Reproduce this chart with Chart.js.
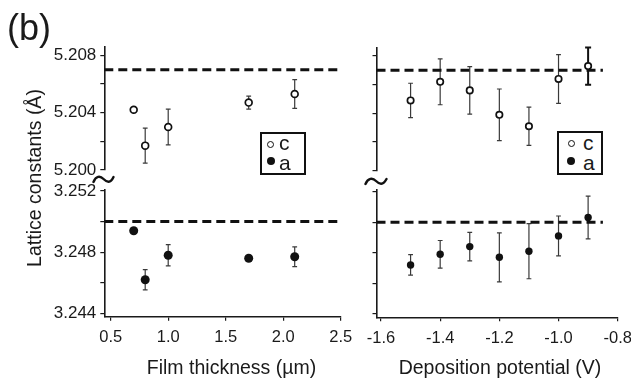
<!DOCTYPE html>
<html>
<head>
<meta charset="utf-8">
<script src="https://cdn.jsdelivr.net/npm/chart.js@4/dist/chart.umd.min.js"></script>
<style>
  html, body { margin: 0; padding: 0; background: #fff; }
  #wrap { position: relative; width: 631px; height: 386px; overflow: hidden; font-family: 'Liberation Sans', Arial, sans-serif; color: #1a1a1a; }
  canvas { position: absolute; left: 0; top: 0; }
  .txt { position: absolute; white-space: nowrap; line-height: 1; }
  .legend { position: absolute; box-sizing: border-box; border: 2px solid #111; background: #fff; }
  .dot { position: absolute; border-radius: 50%; box-sizing: border-box; }
  .brk { position: absolute; }
</style>
</head>
<body>
<div id="wrap">
  <canvas id="tl" width="631" height="386"></canvas>
  <canvas id="bl" width="631" height="386"></canvas>
  <canvas id="tr" width="631" height="386"></canvas>
  <canvas id="br" width="631" height="386"></canvas>

  <div class="txt" style="left:7px; top:10px; font-size:36px;">(b)</div>
  <div class="txt" style="left:34.5px; top:177.5px; font-size:19.5px; transform:translate(-50%,-50%) rotate(-90deg);">Lattice constants (Å)</div>
  <div class="txt" style="left:231.5px; top:367.5px; font-size:19.5px; transform:translate(-50%,-50%);">Film thickness (µm)</div>
  <div class="txt" style="left:500px; top:367.5px; font-size:19.5px; transform:translate(-50%,-50%);">Deposition potential (V)</div>

  <!-- legends -->
  <div class="legend" style="left:260px; top:131.5px; width:46px; height:43.5px;"></div>
  <div class="dot" style="left:267.2px; top:140.5px; width:7px; height:7px; border:1.6px solid #111;"></div>
  <div class="dot" style="left:266.5px; top:156.5px; width:8.4px; height:8.4px; background:#111;"></div>
  <div class="txt" style="left:279px; top:131.5px; font-size:21px;">c</div>
  <div class="txt" style="left:279px; top:152.2px; font-size:21px;">a</div>

  <div class="legend" style="left:557px; top:130.5px; width:46.3px; height:44px;"></div>
  <div class="dot" style="left:567.5px; top:139.5px; width:7px; height:7px; border:1.6px solid #111;"></div>
  <div class="dot" style="left:566.8px; top:156.8px; width:8.4px; height:8.4px; background:#111;"></div>
  <div class="txt" style="left:583px; top:131.5px; font-size:21px;">c</div>
  <div class="txt" style="left:583px; top:152.2px; font-size:21px;">a</div>

  <!-- axis breaks -->
  <svg class="brk" style="left:91.5px; top:174px;" width="23" height="11" viewBox="0 0 23 11">
    <path d="M1.5,8 C4,2 8,1.5 11.5,5 S18.5,9.5 21.5,3" fill="none" stroke="#111" stroke-width="2.4" stroke-linecap="round"/>
  </svg>
  <svg class="brk" style="left:363.5px; top:175.5px;" width="24" height="11" viewBox="0 0 24 11">
    <path d="M1.5,8 C4,2 8.5,1.5 12,5 S19,9.5 22.5,3" fill="none" stroke="#111" stroke-width="2.4" stroke-linecap="round"/>
  </svg>
</div>

<script>
// values
const thickness = [0.7, 0.8, 1.0, 1.7, 2.1];
const cThick = [5.2042, 5.2017, 5.2030, 5.2047, 5.2053];
const cThickErr = [0, 0.00122, 0.00125, 0.00045, 0.0010];
const aThick = [3.2494, 3.2462, 3.2478, 3.2476, 3.2477];
const aThickErr = [0, 0.00066, 0.0007, 0, 0.00065];

const potential = [-1.5, -1.4, -1.3, -1.2, -1.1, -1.0, -0.9];
const cPot = [5.2049, 5.2062, 5.2056, 5.2039, 5.2031, 5.2064, 5.2073];
const cPotErr = [0.0012, 0.0016, 0.00166, 0.0018, 0.00133, 0.0017, 0.0013];
const aPot = [3.2472, 3.2479, 3.2484, 3.2477, 3.2481, 3.2491, 3.2503];
const aPotErr = [0.00067, 0.0009, 0.00093, 0.0016, 0.0018, 0.0013, 0.0014];

const cBulk = 5.207;
const aBulk = 3.250;

const thickTicks = [0.5, 1.0, 1.5, 2.0, 2.5];
const potTicks = [-1.6, -1.4, -1.2, -1.0, -0.8];
const cTicks = [5.200, 5.202, 5.204, 5.206, 5.208];
const cLabels = [5.200, 5.204, 5.208];
const aTicks = [3.244, 3.246, 3.248, 3.250, 3.252];
const aLabels = [3.244, 3.248, 3.252];

const INK = '#1a1a1a';
const FONT = "'Liberation Sans', Arial, sans-serif";

const errorBars = {
  id: 'errorBars',
  beforeDatasetsDraw(chart) {
    const ctx = chart.ctx;
    const ys = chart.scales.y;
    chart.data.datasets.forEach((ds, di) => {
      if (!ds.err) return;
      chart.getDatasetMeta(di).data.forEach((pt, i) => {
        const e = ds.err[i];
        if (!e) return;
        const strong = ds.errStrong && ds.errStrong.indexOf(i) >= 0;
        const top = ys.getPixelForValue(ds.data[i].y + e);
        const bot = ys.getPixelForValue(ds.data[i].y - e);
        const cap = strong ? 3 : 2.4;
        ctx.save();
        ctx.strokeStyle = strong ? '#111' : '#3a3a3a';
        ctx.lineWidth = strong ? 2 : 1.2;
        ctx.beginPath();
        ctx.moveTo(pt.x, top); ctx.lineTo(pt.x, bot);
        ctx.moveTo(pt.x - cap, top); ctx.lineTo(pt.x + cap, top);
        ctx.moveTo(pt.x - cap, bot); ctx.lineTo(pt.x + cap, bot);
        ctx.stroke();
        ctx.restore();
      });
    });
  }
};

function near(list, v) {
  return list.some((l) => Math.abs(l - v) < 1e-7);
}

function panel(id, o) {
  const pts = o.x.map((x, i) => ({ x: x, y: o.y[i] }));
  return new Chart(document.getElementById(id), {
    type: 'scatter',
    data: {
      datasets: [
        {
          data: [{ x: o.xRange[0], y: o.bulk }, { x: o.lineTo, y: o.bulk }],
          showLine: true,
          borderColor: '#111',
          borderWidth: 3,
          borderDash: [9, 5],
          pointRadius: 0,
          order: 2
        },
        {
          data: pts,
          err: o.err,
          errStrong: o.errStrong,
          pointRadius: o.radius,
          pointBorderWidth: o.filled ? 0 : 1.7,
          pointBorderColor: '#111',
          pointBackgroundColor: o.filled ? '#111' : '#fff',
          order: 1
        }
      ]
    },
    options: {
      responsive: false,
      animation: false,
      devicePixelRatio: 1,
      layout: { padding: o.pad },
      plugins: { legend: { display: false }, tooltip: { enabled: false } },
      scales: {
        x: {
          type: 'linear',
          min: o.xRange[0],
          max: o.xRange[1],
          display: o.showX,
          afterBuildTicks: (s) => { s.ticks = o.xTicks.map((v) => ({ value: v })); },
          afterFit: (s) => {
            s.height = o.showX ? 32 : 0;
            s.paddingLeft = 0;
            s.paddingRight = 0;
          },
          grid: { drawOnChartArea: false, drawTicks: true, tickLength: 4, color: INK, lineWidth: 1.2 },
          border: { color: INK, width: 1.6 },
          ticks: {
            padding: 7,
            color: INK,
            font: { family: FONT, size: 16.5 },
            maxRotation: 0,
            autoSkip: false,
            callback: (v) => v.toFixed(1)
          }
        },
        y: {
          type: 'linear',
          min: o.yRange[0],
          max: o.yRange[1],
          afterBuildTicks: (s) => { s.ticks = o.yTicks.map((v) => ({ value: v })); },
          afterFit: (s) => { s.width = 60; s.paddingTop = 0; s.paddingBottom = 0; },
          grid: { drawOnChartArea: false, drawTicks: true, tickLength: 4, color: INK, lineWidth: 1.2 },
          border: { color: INK, width: 1.6 },
          ticks: {
            padding: 4,
            color: INK,
            font: { family: FONT, size: 17 },
            autoSkip: false,
            callback: (v) => (o.yLabels && near(o.yLabels, v) ? v.toFixed(3) : '')
          }
        }
      }
    },
    plugins: [errorBars]
  });
}

const cRange = [5.2000, 5.2086];
const aRange = [3.24378, 3.2521];
const thickRange = [0.4443, 2.5];
const potRange = [-1.6152, -0.8];

panel('tl', {
  x: thickness, y: cThick, err: cThickErr, bulk: cBulk, lineTo: thickRange[1],
  xRange: thickRange, yRange: cRange, xTicks: thickTicks, yTicks: cTicks, yLabels: cLabels,
  showX: false, filled: false, radius: 3.4,
  pad: { left: 44.3, right: 290.3, top: 46.7, bottom: 216 }
});
panel('bl', {
  x: thickness, y: aThick, err: aThickErr, bulk: aBulk, lineTo: thickRange[1],
  xRange: thickRange, yRange: aRange, xTicks: thickTicks, yTicks: aTicks, yLabels: aLabels,
  showX: true, filled: true, radius: 4.5,
  pad: { left: 44.3, right: 290.3, top: 189.5, bottom: 37.3 }
});
panel('tr', {
  x: potential, y: cPot, err: cPotErr, errStrong: [6], bulk: cBulk, lineTo: -0.85,
  xRange: potRange, yRange: cRange, xTicks: potTicks, yTicks: cTicks, yLabels: null,
  showX: false, filled: false, radius: 3.2,
  pad: { left: 316.5, right: 13.3, top: 47.4, bottom: 215.3 }
});
panel('br', {
  x: potential, y: aPot, err: aPotErr, bulk: aBulk, lineTo: -0.85,
  xRange: potRange, yRange: aRange, xTicks: potTicks, yTicks: aTicks, yLabels: null,
  showX: true, filled: true, radius: 3.7,
  pad: { left: 316.5, right: 13.3, top: 190, bottom: 36.7 }
});
</script>
</body>
</html>
